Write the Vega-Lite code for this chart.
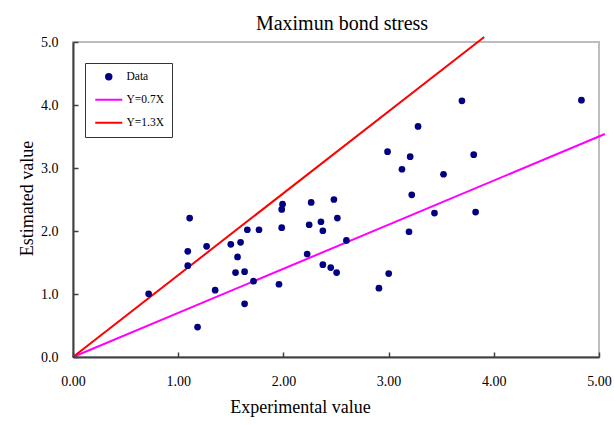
{
  "$schema": "https://vega.github.io/schema/vega-lite/v6.json",
  "autosize": "none",
  "width": 526,
  "height": 315,
  "padding": {"left": 73, "top": 42, "right": 15, "bottom": 68},
  "background": "white",
  "config": {
    "view": {"stroke": "#bdbdbd", "strokeWidth": 2},
    "font": "Liberation Serif"
  },
  "title": {
    "text": "Maximun bond stress",
    "font": "Liberation Serif",
    "fontSize": 20,
    "fontWeight": "normal",
    "color": "black",
    "anchor": "middle",
    "baseline": "alphabetic",
    "offset": 12,
    "dx": 6,
    "dy": 29
  },
  "datasets": {
    "lines": [
      {"series": "Y=0.7X", "x": 0, "y": 0},
      {"series": "Y=0.7X", "x": 5.056, "y": 3.54},
      {"series": "Y=1.3X", "x": 0, "y": 0},
      {"series": "Y=1.3X", "x": 3.909, "y": 5.08}
    ],
    "points": [
      {"series": "Data", "x": 0.719, "y": 1.002},
      {"series": "Data", "x": 1.109, "y": 2.205},
      {"series": "Data", "x": 1.091, "y": 1.677},
      {"series": "Data", "x": 1.091, "y": 1.45},
      {"series": "Data", "x": 1.184, "y": 0.475},
      {"series": "Data", "x": 1.27, "y": 1.756},
      {"series": "Data", "x": 1.351, "y": 1.06},
      {"series": "Data", "x": 1.5, "y": 1.788},
      {"series": "Data", "x": 1.593, "y": 1.82},
      {"series": "Data", "x": 1.564, "y": 1.588},
      {"series": "Data", "x": 1.545, "y": 1.34},
      {"series": "Data", "x": 1.631, "y": 1.355},
      {"series": "Data", "x": 1.631, "y": 0.844},
      {"series": "Data", "x": 1.657, "y": 2.02},
      {"series": "Data", "x": 1.716, "y": 1.203},
      {"series": "Data", "x": 1.768, "y": 2.02},
      {"series": "Data", "x": 1.958, "y": 1.155},
      {"series": "Data", "x": 1.984, "y": 2.052},
      {"series": "Data", "x": 1.984, "y": 2.342},
      {"series": "Data", "x": 1.992, "y": 2.426},
      {"series": "Data", "x": 2.226, "y": 1.635},
      {"series": "Data", "x": 2.245, "y": 2.099},
      {"series": "Data", "x": 2.264, "y": 2.453},
      {"series": "Data", "x": 2.357, "y": 2.147},
      {"series": "Data", "x": 2.375, "y": 2.004},
      {"series": "Data", "x": 2.375, "y": 1.466},
      {"series": "Data", "x": 2.45, "y": 1.419},
      {"series": "Data", "x": 2.48, "y": 2.5},
      {"series": "Data", "x": 2.506, "y": 1.34},
      {"series": "Data", "x": 2.513, "y": 2.205},
      {"series": "Data", "x": 2.599, "y": 1.851},
      {"series": "Data", "x": 2.908, "y": 1.092},
      {"series": "Data", "x": 2.99, "y": 3.259},
      {"series": "Data", "x": 3.001, "y": 1.324},
      {"series": "Data", "x": 3.127, "y": 2.98},
      {"series": "Data", "x": 3.194, "y": 1.988},
      {"series": "Data", "x": 3.205, "y": 3.18},
      {"series": "Data", "x": 3.22, "y": 2.574},
      {"series": "Data", "x": 3.28, "y": 3.66},
      {"series": "Data", "x": 3.436, "y": 2.284},
      {"series": "Data", "x": 3.522, "y": 2.901},
      {"series": "Data", "x": 3.697, "y": 4.066},
      {"series": "Data", "x": 3.809, "y": 3.212},
      {"series": "Data", "x": 3.827, "y": 2.3},
      {"series": "Data", "x": 4.833, "y": 4.077}
    ]
  },
  "encoding": {
    "x": {
      "field": "x",
      "type": "quantitative",
      "scale": {"domain": [0, 5], "nice": false, "zero": true},
      "axis": {
        "values": [0, 1, 2, 3, 4, 5],
        "format": ".2f",
        "grid": false,
        "domainColor": "#404040",
        "domainWidth": 2,
        "tickColor": "#404040",
        "tickWidth": 1.5,
        "tickSize": -5,
        "labelFont": "Liberation Serif",
        "labelFontSize": 14,
        "labelColor": "black",
        "labelBaseline": "middle",
        "labelPadding": 29,
        "labelFlush": false,
        "title": "Experimental value",
        "titleFont": "Liberation Serif",
        "titleFontSize": 18,
        "titleFontWeight": "normal",
        "titleColor": "black",
        "titleX": 227,
        "titleY": 50,
        "titleBaseline": "middle",
        "titleAlign": "center",
        "zindex": 1
      }
    },
    "y": {
      "field": "y",
      "type": "quantitative",
      "scale": {"domain": [0, 5], "nice": false, "zero": true},
      "axis": {
        "values": [0, 1, 2, 3, 4, 5],
        "format": ".1f",
        "grid": false,
        "domainColor": "#404040",
        "domainWidth": 2,
        "tickColor": "#404040",
        "tickWidth": 1.5,
        "tickSize": -5,
        "labelFont": "Liberation Serif",
        "labelFontSize": 14,
        "labelColor": "black",
        "labelPadding": 20,
        "labelFlush": false,
        "title": "Estimated value",
        "titleFont": "Liberation Serif",
        "titleFontSize": 18,
        "titleFontWeight": "normal",
        "titleColor": "black",
        "titleX": -46,
        "titleY": 156,
        "titleAngle": -90,
        "titleBaseline": "middle",
        "titleAlign": "center",
        "zindex": 1
      }
    },
    "color": {
      "field": "series",
      "type": "nominal",
      "scale": {
        "domain": ["Data", "Y=0.7X", "Y=1.3X"],
        "range": ["#000080", "#ff00ff", "#ff0000"]
      },
      "legend": {
        "title": null,
        "orient": "none",
        "legendX": 12,
        "legendY": 21,
        "fillColor": "white",
        "strokeColor": "#333333",
        "padding": 8,
        "labelFont": "Liberation Serif",
        "labelFontSize": 11.5,
        "labelColor": "black",
        "labelOffset": 12,
        "symbolOffset": 10,
        "rowPadding": 10,
        "symbolStrokeWidth": 2,
        "encode": {
          "symbols": {
            "update": {
              "size": {"signal": "datum.value === 'Data' ? 55 : 729"},
              "stroke": {"scale": "color", "field": "value"},
              "strokeWidth": {"signal": "datum.value === 'Data' ? 0 : 2"}
            }
          }
        }
      }
    },
    "shape": {
      "field": "series",
      "type": "nominal",
      "scale": {
        "domain": ["Data", "Y=0.7X", "Y=1.3X"],
        "range": ["circle", "stroke", "stroke"]
      },
      "legend": null
    }
  },
  "layer": [
    {
      "data": {"name": "lines"},
      "mark": {"type": "line", "strokeWidth": 2, "clip": false},
      "encoding": {"shape": null, "detail": {"field": "series"}}
    },
    {
      "data": {"name": "points"},
      "mark": {"type": "point", "filled": true, "size": 45, "opacity": 1},
      "encoding": {}
    }
  ]
}
